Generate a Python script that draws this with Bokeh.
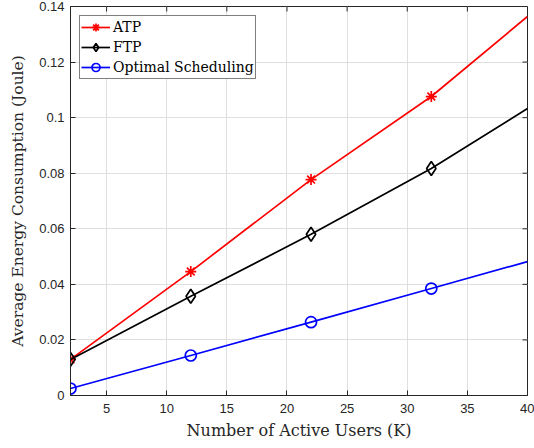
import math

from bokeh.plotting import figure
from bokeh.models import (Range1d, FixedTicker, CustomJSTickFormatter, Legend,
                          LegendItem)
from bokeh.embed import file_html
from bokeh.resources import INLINE

# Average energy consumption (Joule) versus number of active users K
users = [2, 12, 22, 32, 40]
atp = [0.0130, 0.0446, 0.0777, 0.1076, 0.1364]
ftp = [0.0130, 0.0357, 0.0580, 0.0817, 0.1033]
optimal = [0.0025, 0.0144, 0.0264, 0.0385, 0.0482]
marker_users = users[:4]          # markers are placed every 10 users

x_ticks = [5, 10, 15, 20, 25, 30, 35, 40]
y_ticks = [0, 0.02, 0.04, 0.06, 0.08, 0.10, 0.12, 0.14]
X_MIN, X_MAX = 2, 40
Y_MIN, Y_MAX = 0, 0.14

AX = "#262626"
SERIF = "DejaVu Serif"
SANS = "Liberation Sans"

p = figure(width=534, height=448, output_backend="svg", toolbar_location=None,
           x_range=Range1d(X_MIN, X_MAX), y_range=Range1d(Y_MIN, Y_MAX),
           min_border_left=70, min_border_right=7, min_border_top=6,
           min_border_bottom=53)
p.background_fill_color = "white"
p.outline_line_color = AX
p.outline_line_width = 1

fmt = CustomJSTickFormatter(code="return (Math.round(tick*100)/100).toString();")

for ax, ticks in ((p.xaxis[0], x_ticks), (p.yaxis[0], y_ticks)):
    ax.ticker = FixedTicker(ticks=ticks)
    ax.axis_line_color = AX
    ax.axis_line_width = 1
    ax.major_tick_line_color = AX
    ax.major_tick_in = 5
    ax.major_tick_out = 0
    ax.minor_tick_line_color = None
    ax.major_label_text_font = SANS
    ax.major_label_text_font_size = "13px"
    ax.major_label_text_color = AX
    ax.axis_label_text_font = SERIF
    ax.axis_label_text_font_style = "normal"
    ax.axis_label_text_color = AX
p.yaxis[0].formatter = fmt
p.xaxis[0].major_label_standoff = 8
p.yaxis[0].major_label_standoff = 6

p.xaxis[0].axis_label = "Number of Active Users (K)"
p.xaxis[0].axis_label_text_font_size = "16px"
p.xaxis[0].axis_label_standoff = 5
p.yaxis[0].axis_label = "Average Energy Consumption (Joule)"
p.yaxis[0].axis_label_text_font_size = "15.5px"
p.yaxis[0].axis_label_standoff = 9

# inward ticks along the top and right edges of the box
p.ray(x=x_ticks, y=Y_MAX, length=5, length_units="screen", angle=-math.pi / 2,
      line_color=AX, line_width=1)
p.ray(x=X_MAX, y=y_ticks, length=5, length_units="screen", angle=math.pi,
      line_color=AX, line_width=1)

p.xgrid.ticker = FixedTicker(ticks=x_ticks)
p.ygrid.ticker = FixedTicker(ticks=y_ticks)
for g in (p.xgrid[0], p.ygrid[0]):
    g.grid_line_color = "#dfdfdf"
    g.grid_line_width = 1

LW = 1.7
atp_line = p.line(users, atp, line_color="#ff0000", line_width=LW)
atp_mk = p.scatter(marker_users, atp[:4], marker="asterisk", size=11,
                   line_color="#ff0000", line_width=LW)
ftp_line = p.line(users, ftp, line_color="#000000", line_width=LW)
ftp_mk = p.scatter(marker_users, ftp[:4], marker="diamond", size=14,
                   line_color="#000000", fill_alpha=0, line_width=LW)
opt_line = p.line(users, optimal, line_color="#0000ff", line_width=LW)
opt_mk = p.scatter(marker_users, optimal[:4], marker="circle", size=11,
                   line_color="#0000ff", fill_alpha=0, line_width=LW)

legend = Legend(items=[
    LegendItem(label="ATP", renderers=[atp_line, atp_mk]),
    LegendItem(label="FTP", renderers=[ftp_line, ftp_mk]),
    LegendItem(label="Optimal Scheduling", renderers=[opt_line, opt_mk]),
], location="top_left")
legend.label_text_font = SERIF
legend.label_text_font_size = "14px"
legend.label_text_color = "#000000"
legend.border_line_color = "#000000"
legend.border_line_width = 1
legend.glyph_width = 29
legend.glyph_height = 20
legend.label_height = 20
legend.label_standoff = 3
legend.spacing = 0
legend.padding = 1
legend.margin = 9
legend.background_fill_alpha = 1
p.add_layout(legend)

open("out.html", "w").write(file_html(p, INLINE))
